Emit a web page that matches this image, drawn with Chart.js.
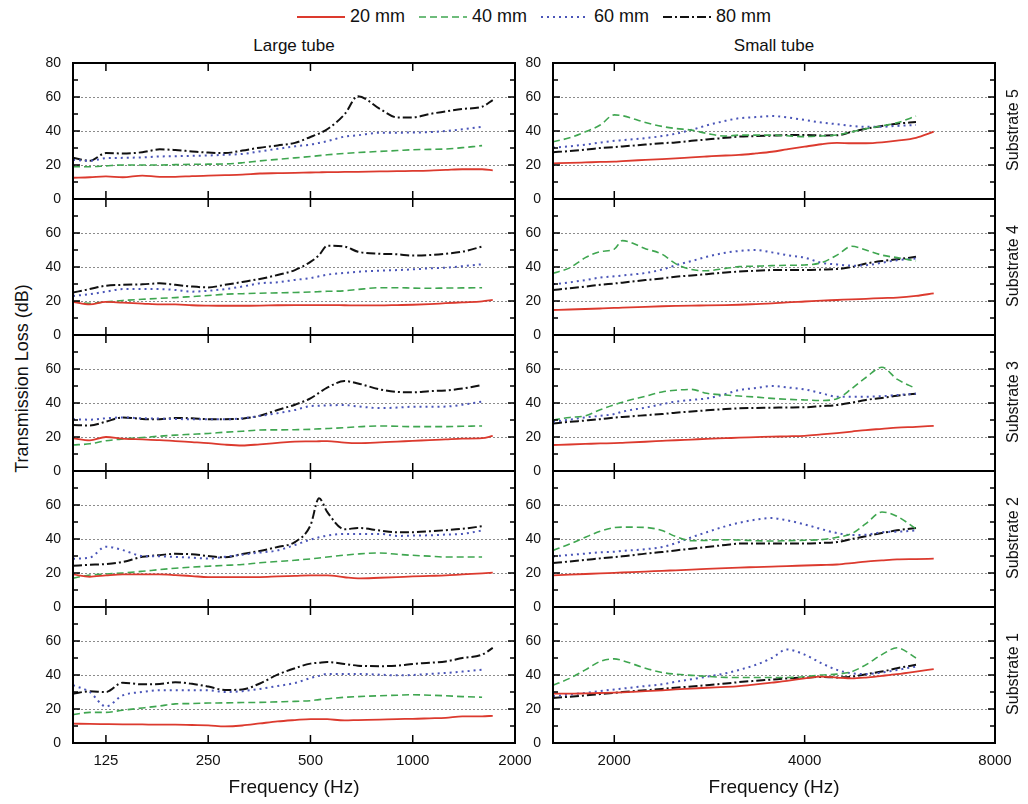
<!DOCTYPE html>
<html lang="en">
<head>
<meta charset="UTF-8">
<title>Transmission Loss</title>
<script src="https://cdn.jsdelivr.net/npm/chart.js@4.4.0/dist/chart.umd.min.js"></script>
<style>
    body { margin: 0; background: #fff; }
    #wrap { position: relative; width: 1028px; height: 804px; overflow: hidden; background: #fff;
            font-family: "Liberation Sans", Arial, sans-serif; color: #111; }
    #wrap canvas { position: absolute; }
    .legend { position: absolute; top: 6px; left: 297px; display: flex; align-items: center;
              font-family: "Liberation Sans Narrow", "Liberation Sans", Arial, sans-serif; font-size: 18px; }
    .legend .item { display: flex; align-items: center; margin-right: 14px; }
    .legend svg { margin-right: 5px; }
    .coltitle { position: absolute; top: 36px; width: 200px; text-align: center; font-size: 17px; }
    .rowlabel { position: absolute; width: 136px; text-align: center; font-size: 16px;
                transform: rotate(-90deg); transform-origin: center center; }
    .ytitle { position: absolute; width: 300px; text-align: center; font-size: 18px;
              transform: rotate(-90deg); transform-origin: center center; }
</style>
</head>
<body>
<div id="wrap">
    <div class="legend" id="legend"></div>
    <div class="coltitle" style="left:194px;">Large tube</div>
    <div class="coltitle" style="left:674px;">Small tube</div>
    <div class="ytitle" style="left:-128px; top:368px;">Transmission Loss (dB)</div>
</div>
<script>
// frequencies (Hz)
const freqLarge = [100, 112, 125, 140, 160, 180, 200, 224, 250, 280, 315, 355, 400, 450, 500, 530, 560, 630, 690, 800, 900, 1000, 1120, 1250, 1400, 1600, 1720];
const freqSmall = [1600, 1700, 1800, 1900, 2000, 2060, 2240, 2380, 2500, 2650, 2800, 3000, 3150, 3350, 3550, 3750, 4000, 4250, 4500, 4750, 5000, 5300, 5600, 6000, 6400];

const xTicksLarge = [125, 250, 500, 1000, 2000];
const xTicksSmall = [2000, 4000, 8000];
const yTickVals = [0, 10, 20, 30, 40, 50, 60, 70, 80];

const seriesNames = ['20 mm', '40 mm', '60 mm', '80 mm'];
const rowLabels = ['Substrate 5', 'Substrate 4', 'Substrate 3', 'Substrate 2', 'Substrate 1'];

// Large tube, substrate 5 .. 1
const large5_20 = [12.5, 12.8, 13.3, 12.8, 13.8, 13, 13, 13.5, 13.8, 14, 14.3, 15, 15.2, 15.4, 15.6, 15.7, 15.8, 15.9, 16, 16.2, 16.4, 16.5, 16.7, 17.1, 17.5, 17.5, 16.8];
const large5_40 = [19, 19, 19.5, 20, 20, 20, 20.2, 20.4, 20.5, 20.6, 21.3, 22.4, 23.3, 24.2, 25, 25.5, 26, 26.8, 27.3, 28, 28.5, 29, 29.2, 29.4, 30.2, 31.4, null];
const large5_60 = [23, 22.5, 24, 24.2, 24.5, 25, 25.2, 25.4, 25.6, 26, 26.5, 28, 29.5, 31, 32, 33, 34, 36.7, 37.5, 39, 39, 39.1, 39.3, 40, 41, 42.5, null];
const large5_80 = [24.3, 22.5, 27, 26.8, 27.5, 29.2, 28.8, 28, 27.3, 27, 28.5, 30.2, 31.5, 33, 36.5, 38.5, 41, 49.8, 60.5, 53, 48, 48, 50, 51.5, 53, 54.3, 58.2];

const large4_20 = [19.5, 18, 19.5, 19, 18.5, 18, 18, 17.5, 17.3, 17.2, 17.2, 17.3, 17.5, 17.6, 17.6, 17.6, 17.6, 17.5, 17.4, 17.4, 17.6, 17.8, 18.2, 18.7, 19.2, 19.8, 20.6];
const large4_40 = [19.6, 18.6, 19.5, 20.3, 21, 21.6, 22, 22.6, 23.2, 24, 24.3, 24.6, 24.8, 25, 25.3, 25.5, 25.7, 26, 26.8, 27.8, 27.8, 27.6, 27.5, 27.6, 27.7, 27.8, null];
const large4_60 = [23, 24, 25.5, 27, 27, 27, 26.5, 25.5, 26, 27, 28.5, 30.4, 31, 32.4, 33.5, 34.5, 35.5, 36.5, 37.2, 37.8, 38.2, 38.6, 39.2, 39.6, 40.5, 41.6, null];
const large4_80 = [25, 27, 29, 29.5, 29.8, 30.4, 29.5, 28.5, 28, 29.5, 31.2, 33, 35.3, 38.2, 43, 47, 52.5, 52, 49, 47.8, 47.5, 46.7, 47, 47.8, 49, 52, null];

const large3_20 = [19.2, 18, 20, 19, 18.6, 18.2, 17.6, 17, 16.4, 15.5, 15, 15.7, 16.5, 17.3, 17.4, 17.5, 17.6, 16.7, 16.4, 16.8, 17.3, 17.7, 18.2, 18.6, 19, 19.3, 20.6];
const large3_40 = [15.3, 16, 17.8, 18.8, 19.7, 20.5, 21.1, 21.6, 22.1, 22.8, 23.4, 24.1, 24.2, 24.3, 24.5, 24.8, 25, 25.5, 26, 26.5, 26.3, 26.1, 26.1, 26.1, 26.3, 26.5, null];
const large3_60 = [30.4, 30.2, 31, 31.5, 31, 30.8, 30.6, 30.4, 30.4, 30.4, 31, 32.4, 34, 35.9, 38.2, 38.4, 38.6, 38.8, 38, 37, 37.3, 37.8, 37.8, 37.9, 39, 40.8, null];
const large3_80 = [27, 26.8, 29, 31.5, 30.6, 30.4, 31.2, 31, 30.5, 30.5, 30.8, 32.5, 35.9, 39, 42.7, 46, 49, 52.9, 51.5, 48, 46.5, 46.3, 47, 47.4, 48.5, 50.6, null];

const large2_20 = [19.2, 17.8, 18.6, 19.2, 19.2, 19.2, 18.8, 18.2, 17.6, 17.6, 17.6, 17.6, 18, 18.3, 18.6, 18.6, 18.6, 17.5, 16.8, 17.2, 17.6, 18, 18.3, 18.6, 19.2, 19.8, 20.2];
const large2_40 = [17, 18.8, 19.4, 20, 21, 22, 22.8, 23.5, 24, 24.5, 25, 26, 26.8, 27.5, 28.3, 28.8, 29.4, 30.5, 31.2, 31.8, 31, 30.4, 29.9, 29.4, 29.4, 29.4, null];
const large2_60 = [28.4, 29, 35.5, 33.5, 30, 29.8, 29.5, 29, 28.5, 29.5, 30.8, 32, 33.3, 36.5, 39.6, 41, 42, 43, 43, 43, 41.8, 42, 42.2, 42.6, 43, 45, null];
const large2_80 = [24.3, 24.8, 25.3, 26.5, 29.5, 30.5, 31.3, 31, 30, 29.2, 31.2, 33, 35.3, 38.2, 48, 64, 56, 45.7, 46.5, 45, 44, 44, 44.5, 45.2, 46, 47.5, null];

const large1_20 = [11.4, 11.2, 11.1, 11, 10.9, 10.8, 10.8, 10.6, 10.4, 9.8, 10.3, 11.5, 12.7, 13.5, 14.1, 14.1, 14, 13.3, 13.5, 13.8, 14.1, 14.2, 14.5, 14.8, 15.7, 15.7, 16];
const large1_40 = [16.7, 18, 18, 19.3, 20.6, 21.8, 23, 23.2, 23.5, 23.6, 23.8, 23.9, 24.2, 24.5, 24.9, 25.5, 26, 26.9, 27.3, 27.8, 28.1, 28.4, 28.1, 27.8, 27.3, 26.9, null];
const large1_60 = [34, 30, 21.5, 28, 30, 31, 31, 31, 31, 30, 30.5, 31.8, 33.5, 35.3, 38.2, 39.5, 40.6, 40.6, 40.6, 40.2, 39.8, 40, 40.6, 41.2, 42, 43.1, null];
const large1_80 = [29, 30.4, 30, 35.5, 34.5, 34.7, 35.7, 34.8, 33.2, 31.2, 31.5, 35, 40.2, 44, 46.7, 47.2, 47.6, 46.5, 45.5, 45.2, 45.5, 46.5, 47.2, 48, 50, 52, 55.9];

// Small tube, substrate 5 .. 1
const small5_20 = [21, 21.2, 21.5, 21.8, 22, 22.3, 23, 23.5, 23.9, 24.5, 25, 25.6, 25.9, 26.8, 27.8, 29.2, 30.8, 32.2, 33, 32.8, 32.8, 33.3, 34.3, 36, 39.6];
const small5_40 = [33.7, 36, 39.5, 43.5, 49.5, 49, 45, 42.7, 41.5, 40.5, 38.6, 37, 37.6, 37.6, 37.6, 37.2, 36.7, 37.1, 37.6, 39.5, 41.3, 43, 44.8, 48.8, null];
const small5_60 = [30.2, 31, 32, 33.2, 34.2, 34.6, 35.8, 37, 38.4, 40.7, 43.3, 46, 47.5, 48.2, 48.8, 48, 46.5, 45, 44, 43, 42.5, 42.5, 43, 43.5, null];
const small5_80 = [27.5, 28.2, 29, 30, 30.5, 30.9, 32, 32.8, 33.3, 34.2, 35, 36, 36.7, 37, 37.3, 37.6, 37.6, 37.4, 37.5, 39.5, 41.3, 43, 44.3, 45.3, null];

const small4_20 = [14.7, 15, 15.3, 15.6, 15.9, 16.1, 16.6, 16.9, 17.1, 17.3, 17.4, 17.6, 17.8, 18.2, 18.6, 19.2, 19.7, 20.2, 20.6, 21, 21.3, 21.7, 22, 23, 24.5];
const small4_40 = [36.3, 39.5, 45.5, 49, 50.5, 55.5, 50.8, 47.5, 42, 38.5, 37.8, 39.2, 40.2, 40.5, 40.8, 41, 41.2, 42.5, 47, 52.2, 50, 47, 45.5, 43.5, null];
const small4_60 = [29.8, 31, 32.3, 33.8, 34.5, 35, 36.5, 38.5, 41, 43.5, 46, 48.4, 49.4, 50, 48.6, 47, 45.5, 42.5, 41.5, 40.8, 41, 42.5, 44, 45, null];
const small4_80 = [26.5, 27.5, 28.5, 29.5, 30.3, 30.8, 32.3, 33.3, 34.3, 35, 35.8, 36.8, 37.3, 37.8, 38.2, 38.2, 38.2, 38.5, 38.8, 40, 42, 43.5, 44.5, 46, null];

const small3_20 = [15.3, 15.6, 15.9, 16.2, 16.4, 16.6, 17.2, 17.7, 18.1, 18.5, 18.9, 19.3, 19.6, 19.9, 20.2, 20.4, 20.7, 21.5, 22.3, 23.2, 24.1, 24.8, 25.5, 26, 26.6];
const small3_40 = [30, 31.5, 32.5, 36, 39, 40.5, 44, 46.5, 47.5, 48, 45.7, 44.7, 44.1, 43.5, 42.7, 42.2, 41.8, 41.5, 42.5, 48.5, 55, 61, 54, 48.5, null];
const small3_60 = [29, 30.2, 31.5, 32.5, 33.5, 34.9, 37.3, 39.3, 40.8, 41.8, 42.7, 45.3, 47.6, 48.8, 50, 49.2, 48, 45.8, 43.7, 43.7, 43.7, 44, 44.7, 45.5, null];
const small3_80 = [28, 28.9, 29.7, 30.5, 31.4, 31.8, 32.8, 33.5, 34.3, 35, 35.7, 36.4, 36.9, 37.1, 37.2, 37.4, 37.5, 38.2, 38.8, 40.2, 41.8, 43, 44.3, 45.5, null];

const small2_20 = [18.6, 19, 19.4, 19.8, 20.1, 20.3, 20.8, 21.3, 21.6, 22, 22.4, 22.9, 23.2, 23.5, 23.8, 24.1, 24.4, 24.7, 25, 25.8, 26.7, 27.4, 28, 28.2, 28.4];
const small2_40 = [33.3, 37, 41, 44.5, 46.7, 47, 46.8, 45, 41.5, 39, 39.2, 39.6, 39.4, 39, 38.8, 39, 39.3, 39.6, 41, 43.2, 49, 55.9, 53.3, 46, null];
const small2_60 = [29.8, 30.6, 31.4, 32.2, 32.5, 33, 34, 35.3, 37.5, 41, 44, 47.5, 49.5, 51.4, 52.3, 51, 48.6, 45.8, 43.5, 42.3, 42.5, 44, 44.3, 45, null];
const small2_80 = [25.9, 26.8, 27.7, 28.6, 29.4, 29.8, 31.4, 32.3, 33.3, 34.3, 35.3, 36.5, 37.3, 37.3, 37.3, 37.3, 37.3, 37.7, 38.2, 40, 41.6, 43.5, 45.1, 46.5, null];

const small1_20 = [29, 29, 29.2, 29.4, 29.6, 29.8, 30.5, 31, 31.5, 32, 32.5, 33, 33.5, 34.5, 35.5, 36.5, 38, 39, 38.5, 38, 38.5, 39.5, 40.5, 42, 43.5];
const small1_40 = [34, 38, 43, 48, 49.5, 48.5, 44, 41.5, 40.5, 39.8, 39.2, 38.6, 38.5, 38.5, 38.5, 38.5, 39, 40, 40.5, 42, 46, 52, 56, 50, null];
const small1_60 = [27.5, 28.5, 29.5, 30.5, 31.5, 32, 33.5, 34.5, 36, 37.5, 39, 41, 43, 46, 50, 55, 52, 47, 43, 41, 40.5, 41.5, 43, 45, null];
const small1_80 = [26.5, 27.2, 28, 28.8, 29.5, 30, 31, 31.8, 32.5, 33.3, 34, 35, 35.8, 36.6, 37.3, 38, 38.5, 38.8, 38.6, 39, 40.5, 42, 44, 46, null];

const largeRows = [
    [large5_20, large5_40, large5_60, large5_80],
    [large4_20, large4_40, large4_60, large4_80],
    [large3_20, large3_40, large3_60, large3_80],
    [large2_20, large2_40, large2_60, large2_80],
    [large1_20, large1_40, large1_60, large1_80]
];
const smallRows = [
    [small5_20, small5_40, small5_60, small5_80],
    [small4_20, small4_40, small4_60, small4_80],
    [small3_20, small3_40, small3_60, small3_80],
    [small2_20, small2_40, small2_60, small2_80],
    [small1_20, small1_40, small1_60, small1_80]
];

// line styles
const lineColors = ['#dc3a2e', '#3fa650', '#4a55b8', '#111111'];
const lineDash = [[], [7, 4], [2, 4], [9, 3, 2, 3]];
const lineWidth = [1.8, 1.6, 2, 2];

Chart.defaults.font.family = '"Liberation Sans", Arial, sans-serif';
Chart.defaults.color = '#111';

// frame + inward tick marks
const framePlugin = {
    id: 'frame',
    afterDatasetsDraw(chart, args, opts) {
        const {ctx, chartArea: a, scales: {x, y}} = chart;
        ctx.save();
        ctx.strokeStyle = '#000';
        ctx.lineWidth = 1.5;
        ctx.beginPath();
        yTickVals.forEach(v => {
            const py = y.getPixelForValue(v);
            const len = v % 20 === 0 ? 7 : 5;
            ctx.moveTo(a.left, py); ctx.lineTo(a.left + len, py);
            ctx.moveTo(a.right, py); ctx.lineTo(a.right - len, py);
        });
        opts.xTicks.forEach(f => {
            if (f <= x.min || f >= x.max) return;
            const px = x.getPixelForValue(f);
            ctx.moveTo(px, a.bottom); ctx.lineTo(px, a.bottom - 8);
            ctx.moveTo(px, a.top); ctx.lineTo(px, a.top + 8);
        });
        ctx.stroke();
        ctx.lineWidth = 2;
        ctx.strokeRect(a.left, a.top, a.right - a.left, a.bottom - a.top);
        ctx.restore();
    }
};

const wrap = document.getElementById('wrap');

function makePanel(col, row, sets) {
    const isBottom = row === 4;
    const freqs = col === 0 ? freqLarge : freqSmall;
    const xTicks = col === 0 ? xTicksLarge : xTicksSmall;
    const plotLeft = col === 0 ? 73 : 553;
    const plotTop = 63 + row * 136;
    const plotW = 442, plotH = 136;
    const yW = 45, T = 10, R = col === 0 ? 20 : 30;
    const xH = isBottom ? 57 : 10;

    const canvas = document.createElement('canvas');
    canvas.width = yW + plotW + R;
    canvas.height = T + plotH + xH;
    canvas.style.left = (plotLeft - yW) + 'px';
    canvas.style.top = (plotTop - T) + 'px';
    wrap.appendChild(canvas);

    const datasets = sets.map((vals, i) => ({
        label: seriesNames[i],
        data: freqs.map((f, k) => ({x: f, y: vals[k]})),
        borderColor: lineColors[i],
        borderDash: lineDash[i],
        borderWidth: lineWidth[i],
        pointRadius: 0,
        fill: false,
        tension: 0.3,
        cubicInterpolationMode: 'monotone'
    }));

    return new Chart(canvas, {
        type: 'line',
        data: {datasets: datasets},
        plugins: [framePlugin],
        options: {
            responsive: false,
            animation: false,
            events: [],
            layout: {padding: {top: T, right: R, left: 0, bottom: 0}},
            plugins: {
                legend: {display: false},
                tooltip: {enabled: false},
                frame: {xTicks: xTicks}
            },
            scales: {
                x: {
                    type: 'logarithmic',
                    min: col === 0 ? 100 : 1600,
                    max: col === 0 ? 2000 : 8000,
                    afterBuildTicks: s => { s.ticks = xTicks.map(v => ({value: v})); },
                    afterFit: s => { s.height = xH; s.paddingLeft = 0; s.paddingRight = 0; },
                    grid: {display: false},
                    border: {display: false},
                    ticks: {
                        display: isBottom, autoSkip: false, maxRotation: 0, padding: 1,
                        font: {size: 15}, color: '#111',
                        callback: v => String(v)
                    },
                    title: {
                        display: isBottom, text: 'Frequency (Hz)', color: '#111',
                        font: {size: 19}, padding: {top: 0, bottom: 1}
                    }
                },
                y: {
                    min: 0, max: 80,
                    afterBuildTicks: s => { s.ticks = yTickVals.map(v => ({value: v})); },
                    afterFit: s => { s.width = yW; s.paddingTop = 0; s.paddingBottom = 0; },
                    grid: {
                        drawTicks: false, lineWidth: 1,
                        color: c => (c.tick && c.tick.value % 20 === 0) ? '#8c8c8c' : '#d4d4d4'
                    },
                    border: {display: false, dash: [2, 2]},
                    ticks: {
                        padding: 12, font: {size: 14}, color: '#111',
                        callback: v => (v % 20 === 0 && (v < 80 || row === 0)) ? String(v) : ''
                    }
                }
            }
        }
    });
}

for (let r = 0; r < 5; r++) {
    makePanel(0, r, largeRows[r]);
    makePanel(1, r, smallRows[r]);

    const lab = document.createElement('div');
    lab.className = 'rowlabel';
    lab.textContent = rowLabels[r];
    lab.style.left = (1013 - 68) + 'px';
    lab.style.top = (63 + r * 136 + 68 - 10) + 'px';
    wrap.appendChild(lab);
}

// legend
const legend = document.getElementById('legend');
seriesNames.forEach((name, i) => {
    const item = document.createElement('div');
    item.className = 'item';
    const dash = lineDash[i].length ? lineDash[i].join(' ') : 'none';
    item.innerHTML = '<svg width="48" height="10"><line x1="0" y1="5" x2="48" y2="5" stroke="' + lineColors[i] +
        '" stroke-width="' + lineWidth[i] + '" stroke-dasharray="' + dash + '"/></svg><span>' + name + '</span>';
    legend.appendChild(item);
});
</script>
</body>
</html>
